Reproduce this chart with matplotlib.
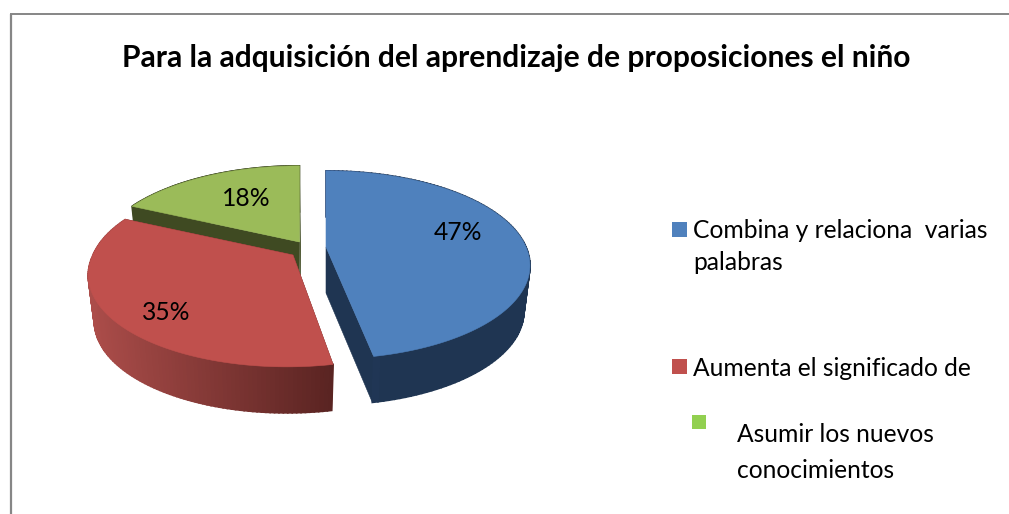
import numpy as np
import matplotlib
matplotlib.use("Agg")
import matplotlib.pyplot as plt
from matplotlib.patches import Polygon, Rectangle

# ---- data ----
title = "Para la adquisición del aprendizaje de proposiciones el niño"
values = [47, 35, 18]
value_labels = ["47%", "35%", "18%"]
legend_lines = [["Combina y relaciona  varias", "palabras"],
                ["Aumenta el significado de"],
                ["Asumir los nuevos", "conocimientos"]]

# ---- style / layout (pixels) ----
W, H = 1009, 514
top_colors = ["#4F81BD", "#C0504D", "#9BBB59"]
swatch_colors = ["#4F81BD", "#C0504D", "#92D050"]
side_dark = ["#1F3552", "#5A2422", "#3F4A22"]
side_light = ["#26406A", "#AC4D4A", "#3F4A22"]
apex = [(326, 247), (293, 255), (299.5, 242)]
label_pos = [(458, 233), (166, 312), (246, 198)]
R, RK, P, DEPTH, BOTTOM_SCALE, VANISH_X = 200.0, 90.6, 0.19, 46.0, 0.97, 319.0

plt.rcParams["font.family"] = ["Lato", "DejaVu Sans"]
fig = plt.figure(figsize=(W / 100, H / 100), dpi=100)
ax = fig.add_axes([0, 0, 1, 1])
ax.set_xlim(0, W)
ax.set_ylim(H, 0)
ax.axis("off")


def rim(theta, cx, cy, bottom=False):
    """Project pie-plane angles (clockwise from 12 o'clock) with perspective."""
    X, Y = np.sin(theta), np.cos(theta)
    s = 1 / (1 + P * Y)
    k = BOTTOM_SCALE if bottom else 1.0
    return (cx + k * R * X * s + (cx - VANISH_X) * np.maximum(s - 1, 0),
            cy - RK * Y * s + (DEPTH if bottom else 0))


def mix(c1, c2, t):
    a, b = np.array(matplotlib.colors.to_rgb(c1)), np.array(matplotlib.colors.to_rgb(c2))
    return tuple(a + (b - a) * t)


edges = np.deg2rad(np.concatenate([[0], np.cumsum(values)]) * 360 / sum(values))
z = 1
for i in [2, 0, 1]:
    a0, a1 = edges[i], edges[i + 1]
    cx, cy = apex[i]
    th = np.linspace(a0, a1, 120)
    xt, yt = rim(th, cx, cy)
    xb, yb = rim(th, cx, cy, bottom=True)
    # inner cut faces
    for a in (a0, a1):
        xe, ye = rim(np.array([a]), cx, cy)
        xf, yf = rim(np.array([a]), cx, cy, bottom=True)
        ax.add_patch(Polygon([(cx, cy), (xe[0], ye[0]), (xf[0], yf[0]), (cx, cy + DEPTH)],
                             closed=True, fc=side_dark[i], ec=side_dark[i], lw=0.4, zorder=z))
    z += 1
    # outer wall, shaded along x
    x_lo, x_hi = xt.min(), xt.max()
    for j in range(len(th) - 1):
        if i == 0:
            t = 0.0 if xt[j] > x_lo + 60 else 1 - (xt[j] - x_lo) / 60
        else:
            t = 1 - (xt[j] - x_lo) / (x_hi - x_lo)
        col = mix(side_dark[i], side_light[i], t)
        ax.add_patch(Polygon([(xt[j], yt[j]), (xt[j + 1], yt[j + 1]),
                              (xb[j + 1], yb[j + 1]), (xb[j], yb[j])],
                             closed=True, fc=col, ec=col, lw=1.2, zorder=z))
    z += 1
    # top surface
    ax.add_patch(Polygon(np.vstack([[cx, cy], np.column_stack([xt, yt])]), closed=True,
                         fc=top_colors[i], ec=top_colors[i], lw=0.4, zorder=z))
    z += 1

for lab, (x, y) in zip(value_labels, label_pos):
    ax.text(x, y, lab, ha="center", va="center", fontsize=17.7, color="black", zorder=50)

# frame (open at the right and bottom, as cropped)
ax.plot([11, 11], [H, 14], color="#868686", lw=1.6, solid_capstyle="butt", zorder=60)
ax.plot([10.2, W], [14, 14], color="#868686", lw=1.4, solid_capstyle="butt", zorder=60)

ax.text(516, 58, title, ha="center", va="center", fontsize=21.6, fontweight="bold", color="black")

# legend
swatch_boxes = [(672, 222, 15), (672, 359, 15), (692, 415, 14)]
text_rows = [[(693, 230), (693, 263)], [(693, 368)], [(737, 434), (737, 471)]]
for col, (sx, sy, ss), lines, rows in zip(swatch_colors, swatch_boxes, legend_lines, text_rows):
    ax.add_patch(Rectangle((sx, sy), ss, ss, fc=col, ec="none"))
    for line, (tx, ty) in zip(lines, rows):
        ax.text(tx, ty, line, ha="left", va="center", fontsize=17.7, color="black")

fig.savefig("out.png", dpi=100)
